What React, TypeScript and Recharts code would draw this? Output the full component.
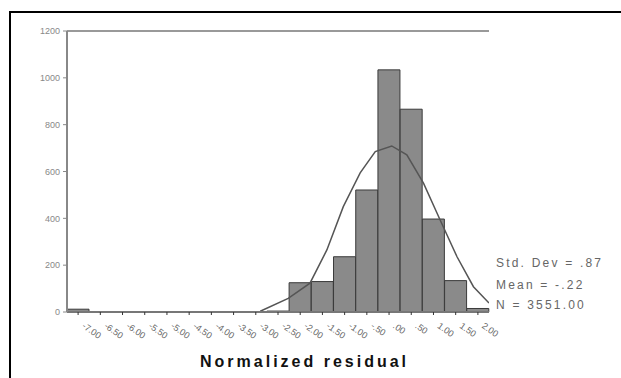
import React from 'react';
import { ComposedChart, Bar, Line, XAxis, YAxis, ReferenceLine } from 'recharts';

const binLabels = ['-7.00','-6.50','-6.00','-5.50','-5.00','-4.50','-4.00','-3.50','-3.00','-2.50','-2.00','-1.50','-1.00','-.50','.00','.50','1.00','1.50','2.00'];
const binCounts = [12,0,0,0,0,0,0,0,0,4,125,130,236,521,1034,866,397,134,15];

const curveX = [-2.90,-2.27,-1.78,-1.40,-1.03,-0.65,-0.31,0.06,0.40,0.775,1.15,1.53,1.90,2.25];
const curveY = [3,58,123,265,450,594,685,709,671,550,393,236,108,38];

const yTicks = [0,200,400,600,800,1000,1200];
const statLines = ['Std. Dev = .87', 'Mean = -.22', 'N = 3551.00'];
const axisTitle = 'Normalized residual';

const barData = binLabels.map((label, i) => ({ label, count: binCounts[i] }));
const curveData = curveX.map((x, i) => ({ x, y: curveY[i] }));

const XTick = (props: any) => {
  const { x, y, payload } = props;
  const tx = x + 7;
  const ty = y + 5;
  return (
    <text x={tx} y={ty} transform={`rotate(35, ${tx}, ${ty})`} fontSize={9} fill="#666" textAnchor="start" fontFamily="Liberation Sans, Arial, sans-serif" dominantBaseline="hanging">
      {payload.value}
    </text>
  );
};

export default function App() {
  return (
    <div style={{ position: 'fixed', left: 0, top: 0, width: 621, height: 378, background: '#fff', fontFamily: 'Liberation Sans, Arial, sans-serif' }}>
      <div style={{ position: 'absolute', left: 9, top: 11, width: 612, height: 2, background: '#000' }} />
      <div style={{ position: 'absolute', left: 9, top: 11, width: 2, height: 367, background: '#000' }} />
      <ComposedChart width={621} height={378} data={barData} margin={{ top: 31, right: 132, bottom: 6, left: 0 }} barCategoryGap={0} barGap={0}>
        <XAxis xAxisId="cat" dataKey="label" interval={0} height={60} tick={<XTick />} tickLine={{ stroke: '#333' }} tickSize={3} axisLine={{ stroke: '#777', strokeWidth: 2 }} />
        <XAxis xAxisId="num" type="number" dataKey="x" domain={[-7.25, 2.25]} allowDataOverflow hide />
        <YAxis yAxisId="l" domain={[0, 1200]} ticks={yTicks} width={67} tickSize={4} tickMargin={3} axisLine={{ stroke: '#888', strokeWidth: 2 }} tickLine={{ stroke: '#888' }} tick={{ fontSize: 9, fill: '#888' }} />
        <YAxis yAxisId="r" orientation="right" domain={[0, 1200]} width={0} tick={false} tickLine={false} axisLine={{ stroke: '#888', strokeWidth: 2 }} />
        <ReferenceLine xAxisId="cat" yAxisId="l" y={1200} stroke="#999" strokeWidth={2} />
        <Bar xAxisId="cat" yAxisId="l" dataKey="count" fill="#8a8a8a" stroke="#3a3a3a" strokeWidth={1} isAnimationActive={false} />
        <Line xAxisId="num" yAxisId="l" data={curveData} dataKey="y" type="linear" stroke="#555" strokeWidth={1.5} dot={false} isAnimationActive={false} />
      </ComposedChart>
      {statLines.map((s, i) => (
        <div key={s} style={{ position: 'absolute', left: 496, top: [256, 278, 298][i], fontSize: 12, lineHeight: '14px', color: '#666', letterSpacing: 2.2, whiteSpace: 'nowrap' }}>{s}</div>
      ))}
      <div style={{ position: 'absolute', left: 200, top: 354, fontSize: 16, lineHeight: '16px', fontWeight: 'bold', color: '#111', letterSpacing: 3, whiteSpace: 'nowrap' }}>{axisTitle}</div>
    </div>
  );
}
